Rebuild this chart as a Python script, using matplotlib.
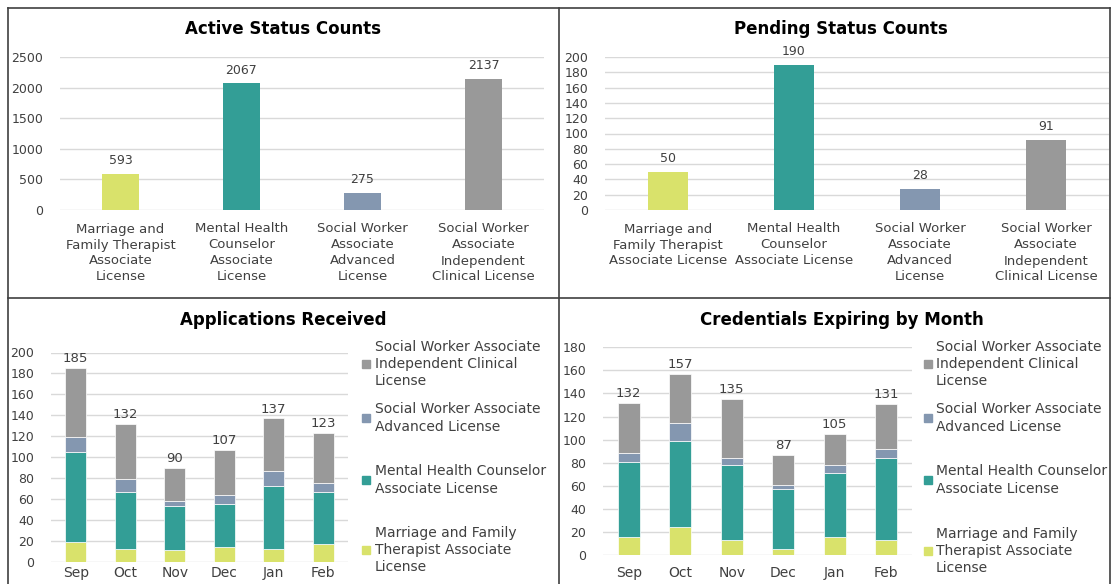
import matplotlib
matplotlib.use("Agg")
import matplotlib.pyplot as plt
from matplotlib.lines import Line2D
from matplotlib.patches import Rectangle
import numpy as np

plt.rcParams['font.family'] = ['DejaVu Sans']

# --- data ---
license_labels_active = ["Marriage and\nFamily Therapist\nAssociate\nLicense",
                         "Mental Health\nCounselor\nAssociate\nLicense",
                         "Social Worker\nAssociate\nAdvanced\nLicense",
                         "Social Worker\nAssociate\nIndependent\nClinical License"]
license_labels_pending = ["Marriage and\nFamily Therapist\nAssociate License",
                          "Mental Health\nCounselor\nAssociate License",
                          "Social Worker\nAssociate\nAdvanced\nLicense",
                          "Social Worker\nAssociate\nIndependent\nClinical License"]
active_counts = [593, 2067, 275, 2137]
pending_counts = [50, 190, 28, 91]

months = ["Sep", "Oct", "Nov", "Dec", "Jan", "Feb"]
series_names = ["Marriage and Family\nTherapist Associate\nLicense",
                "Mental Health Counselor\nAssociate License",
                "Social Worker Associate\nAdvanced License",
                "Social Worker Associate\nIndependent Clinical\nLicense"]

# applications received, by license (bottom to top)
app_mft = [19, 12, 11, 14, 12, 17]
app_mhc = [86, 55, 42, 41, 61, 50]
app_swaa = [14, 12, 5, 9, 14, 8]
app_swicl = [66, 53, 32, 43, 50, 48]

# credentials expiring, by license (bottom to top)
exp_mft = [16, 24, 13, 5, 16, 13]
exp_mhc = [65, 75, 65, 52, 55, 71]
exp_swaa = [7, 15, 6, 4, 7, 8]
exp_swicl = [44, 43, 51, 26, 27, 39]

colors = ["#D9E26B", "#339E96", "#8497B0", "#999999"]
grid_col = "#D9D9D9"
text_col = "#404040"

W, H = 1117, 584
fig = plt.figure(figsize=(W / 100, H / 100), dpi=100)


def px_axes(l, t, r, b):
    return fig.add_axes([l / W, 1 - b / H, (r - l) / W, (b - t) / H])


def style(ax, ymax, step):
    ax.set_ylim(0, ymax)
    ax.set_yticks(np.arange(0, ymax + 1, step))
    ax.yaxis.grid(True, color=grid_col, linewidth=1)
    ax.set_axisbelow(True)
    for s in ax.spines.values():
        s.set_visible(False)
    ax.tick_params(length=0, colors=text_col)
    ax.tick_params(axis='y', labelsize=9, pad=12)


def simple_bars(ax, labels, values, ymax, step):
    x = np.arange(len(values))
    ax.bar(x, values, width=0.31, color=colors)
    ax.set_xlim(-0.5, len(values) - 0.5)
    style(ax, ymax, step)
    ax.set_xticks(x)
    ax.set_xticklabels(labels, fontsize=9.5, linespacing=1.3)
    ax.tick_params(axis='x', labelsize=9.5, pad=9)
    for xi, v in zip(x, values):
        ax.annotate(str(v), (xi, v), xytext=(0, 5), textcoords='offset points',
                    ha='center', va='bottom', fontsize=9, color=text_col)


def stacked_bars(ax, stacks, ymax, step, pad):
    x = np.arange(len(months))
    bottom = np.zeros(len(months))
    for vals, c in zip(stacks, colors):
        ax.bar(x, vals, bottom=bottom, width=0.42, color=c,
               edgecolor='white', linewidth=0.5)
        bottom = bottom + np.array(vals)
    ax.set_xlim(-0.5, len(months) - 0.5)
    style(ax, ymax, step)
    ax.set_xticks(x)
    ax.set_xticklabels(months)
    ax.tick_params(axis='x', labelsize=10, pad=pad)
    for xi, v in zip(x, bottom):
        ax.annotate(str(int(v)), (xi, v), xytext=(0, 2), textcoords='offset points',
                    ha='center', va='bottom', fontsize=9.5, color=text_col)


def legend_block(x_marker, x_text, tops):
    for name, c, t in zip(series_names[::-1], colors[::-1], tops):
        fig.text(x_text / W, 1 - t / H, name, fontsize=10, color=text_col,
                 va='center', ha='left', linespacing=1.3)
        fig.patches.append(Rectangle(((x_marker - 4) / W, 1 - (t + 4) / H), 8 / W, 8 / H,
                                     transform=fig.transFigure, color=c))


# top-left
ax1 = px_axes(60, 57, 544, 210)
simple_bars(ax1, license_labels_active, active_counts, 2500, 500)
fig.text(283 / W, 1 - 29 / H, "Active Status Counts", ha='center', va='center',
         fontsize=12, fontweight='bold', color='black')

# top-right
ax2 = px_axes(605, 57, 1109, 210)
simple_bars(ax2, license_labels_pending, pending_counts, 200, 20)
fig.text(841 / W, 1 - 29 / H, "Pending Status Counts", ha='center', va='center',
         fontsize=12, fontweight='bold', color='black')

# bottom-left
ax3 = px_axes(51, 352.5, 348, 562)
stacked_bars(ax3, [app_mft, app_mhc, app_swaa, app_swicl], 200, 20, pad=3)
fig.text(283 / W, 1 - 320 / H, "Applications Received", ha='center', va='center',
         fontsize=12, fontweight='bold', color='black')
legend_block(366, 375, [346 + 18, 409 + 9, 471 + 9, 532 + 18])

# bottom-right
ax4 = px_axes(603, 347.3, 912, 555)
stacked_bars(ax4, [exp_mft, exp_mhc, exp_swaa, exp_swicl], 180, 20, pad=8)
fig.text(842 / W, 1 - 320 / H, "Credentials Expiring by Month", ha='center', va='center',
         fontsize=12, fontweight='bold', color='black')
legend_block(928, 936, [346 + 18, 409 + 9, 471 + 9, 533 + 18])

# panel borders
border = dict(color='#404040', linewidth=1.2, transform=fig.transFigure)
for x in (8, 559.5, 1110):
    fig.add_artist(Line2D([x / W, x / W], [1 - 8 / H, 0], **border))
for y in (8, 298):
    fig.add_artist(Line2D([8 / W, 1110 / W], [1 - y / H, 1 - y / H], **border))

fig.savefig("out.png", dpi=100, facecolor='white')
